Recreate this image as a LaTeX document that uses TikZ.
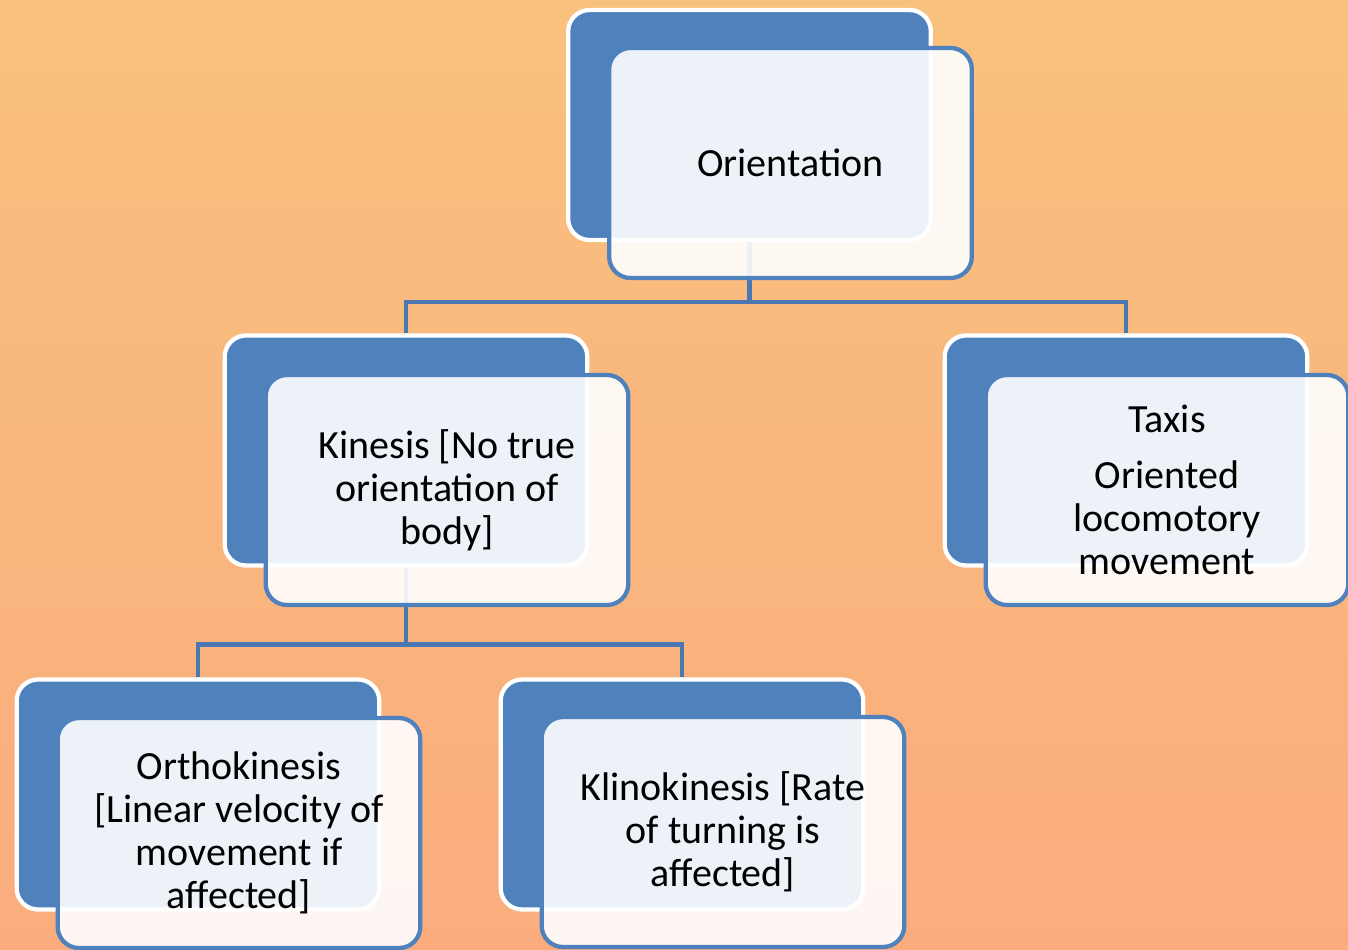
\documentclass[tikz,border=0pt]{standalone}
\usepackage{fontspec}
\setmainfont{Carlito}
\definecolor{boxblue}{HTML}{4F81BD}
\definecolor{linkblue}{HTML}{4A77B1}
\definecolor{bgtop}{HTML}{F9C17E}
\definecolor{bgbottom}{HTML}{FAAC7D}

\begin{document}
\begin{tikzpicture}[x=0.75pt, y=-0.75pt,
        back/.style = {draw=white, line width=3.2pt, fill=boxblue, rounded corners=16pt,
                       minimum width=272pt, minimum height=172.5pt, inner sep=0pt},
        front/.style = {draw=boxblue, line width=3.2pt, fill=white, fill opacity=.9, text opacity=1,
                        rounded corners=16pt, minimum width=272pt, minimum height=172.5pt,
                        align=center, font=\fontsize{30}{32.25}\selectfont},
        link/.style = {draw=linkblue, line width=3.5pt}]
        \useasboundingbox (0,0) rectangle (1348,949);
        \shade[top color=bgtop, bottom color=bgbottom] (0,0) rectangle (1348,949);

        % back cards
        \node[back] (oriback) at (749.5,125) {};
        \node[back] (kinback) at (406,450.5) {};
        \node[back] (taxback) at (1126,450.5) {};
        \node[back] (orthoback) at (198,794.5) {};
        \node[back] (klinoback) at (682,794.5) {};

        % connectors
        \draw[link] (oriback.south) -- ++(0,60) -| (kinback.north);
        \draw[link] (oriback.south) -- ++(0,60) -| (taxback.north);
        \draw[link] (kinback.south) -- ++(0,77) -| (orthoback.north);
        \draw[link] (kinback.south) -- ++(0,77) -| (klinoback.north);

        % front cards
        \node[front] (ori) at (790.5,163) {Orientation};
        \node[front] (kin) at (447,490) {Kinesis [No true\\orientation of\\body]};
        \node[front] (tax) at (1167,490) {Taxis\\[10pt]Oriented\\locomotory\\movement};
        \node[front] (ortho) at (239,833) {Orthokinesis\\{}[Linear velocity of\\movement if\\affected]};
        \node[front] (klino) at (723,832) {Klinokinesis [Rate\\of turning is\\affected]};
    \end{tikzpicture}
\end{document}
